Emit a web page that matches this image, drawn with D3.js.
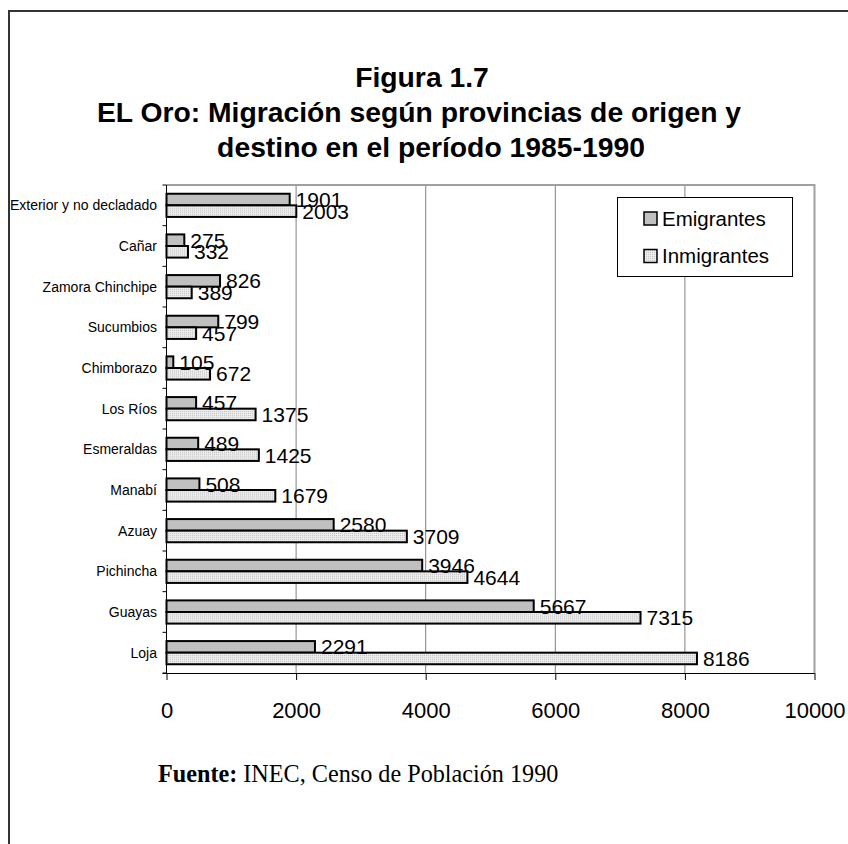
<!DOCTYPE html>
<html><head><meta charset="utf-8">
<script src="https://cdn.jsdelivr.net/npm/d3@7"></script>
<style>html,body{margin:0;padding:0;background:#fff;}svg{display:block;}</style>
</head><body>
<svg id="chart" width="848" height="844"></svg>
<script>
const categories = ["Exterior y no decladado","Cañar","Zamora Chinchipe","Sucumbios","Chimborazo","Los Ríos","Esmeraldas","Manabí","Azuay","Pichincha","Guayas","Loja"];
const emigrantes = [1901,275,826,799,105,457,489,508,2580,3946,5667,2291];
const inmigrantes = [2003,332,389,457,672,1375,1425,1679,3709,4644,7315,8186];
const seriesNames = ["Emigrantes","Inmigrantes"];
const xTicks = [0,2000,4000,6000,8000,10000];
const titleLines = ["Figura 1.7","EL Oro: Migración según provincias de origen y","destino en el período 1985-1990"];

const svg = d3.select("#chart");
const W = 848, H = 844;
const plot = {left:166.5, right:814.5, top:185, bottom:673};

// pattern for Inmigrantes
const defs = svg.append("defs");
const pat = defs.append("pattern").attr("id","dots").attr("patternUnits","userSpaceOnUse").attr("width",2).attr("height",2);
pat.append("rect").attr("width",2).attr("height",2).attr("fill","#ececec");
pat.append("rect").attr("width",1).attr("height",1).attr("fill","#c4c4c4");

// outer frame
svg.append("path").attr("d",`M9,${H} L9,11 L${W},11`).attr("fill","none").attr("stroke","#333").attr("stroke-width",2);

// title
const titleX = [422,419,431];
const titleY = [87,122,157];
svg.selectAll("text.title").data(titleLines).join("text")
  .attr("class","title")
  .attr("x",(d,i)=>titleX[i]).attr("y",(d,i)=>titleY[i])
  .attr("text-anchor","middle")
  .attr("font-family","Liberation Sans, Arial, sans-serif")
  .attr("font-weight","bold").attr("font-size",28.3)
  .text(d=>d);

const x = d3.scaleLinear().domain([0,10000]).range([plot.left, plot.right]);
const y = d3.scaleBand().domain(categories).range([plot.top, plot.bottom]).paddingInner(0.43).paddingOuter(0.215);
const ySub = d3.scaleBand().domain(seriesNames).range([0, y.bandwidth()]);
const step = y.step();

// gridlines
svg.append("g").selectAll("line").data(xTicks.filter(t=>t>0 && t<10000)).join("line")
  .attr("x1",d=>x(d)).attr("x2",d=>x(d)).attr("y1",plot.top).attr("y2",plot.bottom)
  .attr("stroke","#808080").attr("stroke-width",1);

// plot border top & right
svg.append("path").attr("d",`M${plot.left},${plot.top} L${x(10000)},${plot.top} L${x(10000)},${plot.bottom}`)
  .attr("fill","none").attr("stroke","#a0a0a0").attr("stroke-width",2);

// bars
const rows = categories.map((c,i)=>({cat:c, vals:[{s:"Emigrantes",v:emigrantes[i]},{s:"Inmigrantes",v:inmigrantes[i]}]}));
const g = svg.append("g");
const rowG = g.selectAll("g.row").data(rows).join("g").attr("class","row")
  .attr("transform",d=>`translate(0,${y(d.cat)})`);
rowG.selectAll("rect").data(d=>d.vals).join("rect")
  .attr("x",x(0)).attr("y",d=>ySub(d.s))
  .attr("width",d=>x(d.v)-x(0)).attr("height",ySub.bandwidth())
  .attr("fill",d=>d.s==="Emigrantes"?"#c0c0c0":"url(#dots)")
  .attr("stroke","#000").attr("stroke-width",2);
rowG.selectAll("text").data(d=>d.vals).join("text")
  .attr("x",d=>x(d.v)+6).attr("y",d=>ySub(d.s)+ySub.bandwidth()/2)
  .attr("dy","0.36em")
  .attr("font-family","Liberation Sans, Arial, sans-serif").attr("font-size",21)
  .text(d=>d.v);

// left axis line & boundary ticks
svg.append("line").attr("x1",plot.left).attr("x2",plot.left).attr("y1",plot.top).attr("y2",plot.bottom).attr("stroke","#000").attr("stroke-width",1);
const bounds = d3.range(categories.length+1).map(i=>plot.top + i*step);
svg.append("g").selectAll("line").data(bounds).join("line")
  .attr("x1",plot.left-4).attr("x2",plot.left).attr("y1",d=>d).attr("y2",d=>d)
  .attr("stroke","#000").attr("stroke-width",1);
svg.append("g").selectAll("text").data(categories).join("text")
  .attr("x",157).attr("y",d=>y(d)+y.bandwidth()/2).attr("dy","0.36em")
  .attr("text-anchor","end")
  .attr("font-family","Liberation Sans, Arial, sans-serif").attr("font-size",14)
  .text(d=>d);

// bottom axis
const xAxis = d3.axisBottom(x).tickValues(xTicks).tickSize(7).tickSizeOuter(0).tickPadding(22).tickFormat(d3.format("d"));
const ax = svg.append("g").attr("transform",`translate(0,${plot.bottom})`).call(xAxis);
ax.select(".domain").attr("d",`M${plot.left-4},0.5H${x(10000)}`).attr("stroke","#000");
ax.selectAll(".tick line").attr("stroke","#000");
ax.selectAll(".tick text").attr("font-family","Liberation Sans, Arial, sans-serif").attr("font-size",22).attr("fill","#000");

// legend
const lg = svg.append("g");
lg.append("rect").attr("x",617.5).attr("y",197.5).attr("width",175).attr("height",79).attr("fill","#fff").attr("stroke","#000").attr("stroke-width",1);
const legY = [218.5,256];
seriesNames.forEach((s,i)=>{
  lg.append("rect").attr("x",644).attr("y",legY[i]-6.5).attr("width",13).attr("height",13)
    .attr("fill",i===0?"#c0c0c0":"url(#dots)").attr("stroke","#000").attr("stroke-width",1.5);
  lg.append("text").attr("x",662).attr("y",legY[i]).attr("dy","0.36em")
    .attr("font-family","Liberation Sans, Arial, sans-serif").attr("font-size",20.5).text(s);
});

// source
const src = svg.append("text").attr("x",158).attr("y",782)
  .attr("font-family","Liberation Serif, Times New Roman, serif").attr("font-size",24.2);
src.append("tspan").attr("font-weight","bold").text("Fuente:");
src.append("tspan").text(" INEC, Censo de Población 1990");
</script>
</body></html>
